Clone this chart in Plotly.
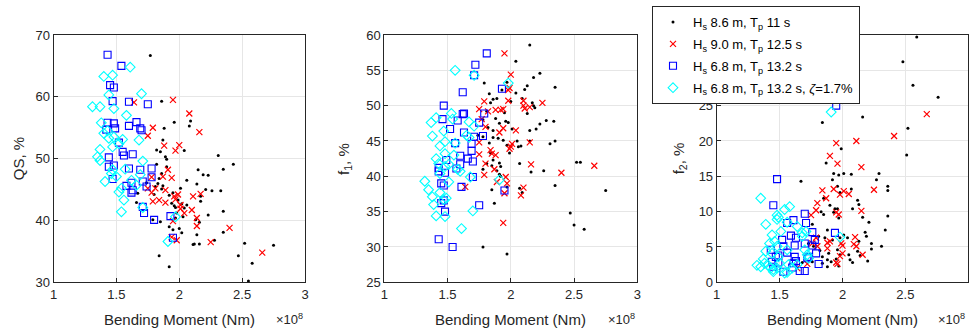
import plotly.graph_objects as go

# ---------------- data (bending moment in units of 1e8 Nm) ----------------
# Panel 1: QS, %
qs_black_x = [1.77,1.86,1.96,1.88,2.08,2.09,1.87,1.82,1.85,2.04,1.89,1.90,2.31,2.43,2.35,1.82,1.90,1.86,1.84,2.15,
              2.19,2.23,2.06,1.83,1.87,1.81,2.14,2.21,2.26,2.33,2.01,1.95,1.92,1.99,2.17,2.17,2.06,2.04,1.80,1.86,
              1.94,1.96,1.97,2.03,2.23,2.35,2.13,2.16,2.00,1.95,2.02,1.92,2.14,2.35,1.85,1.79,2.11,2.12,2.16,2.28,
              2.52,2.75,1.84,2.47,2.58,1.92,2.55,1.74,1.97,1.98,2.02,1.67,1.66]
qs_black_y = [66.7,59.3,55.9,54.9,55.3,56.1,53.0,51.4,51.1,51.3,50.3,49.9,50.5,49.1,48.3,49.1,48.7,47.6,46.8,48.2,
              47.4,47.3,46.5,46.0,45.6,45.5,45.9,45.0,44.8,44.8,45.2,44.5,44.1,43.3,43.9,43.1,42.5,42.0,44.2,45.1,
              42.8,42.4,40.4,40.6,40.9,41.5,40.1,39.7,38.7,38.5,38.0,39.0,37.7,38.1,39.8,40.1,36.1,36.2,36.2,36.8,
              36.3,36.0,34.3,34.3,33.1,32.5,30.2,46.1,42.1,41.2,42.7,44.4,42.9]
qs_red_x = [1.64,1.95,2.08,2.16,1.79,1.75,1.88,2.00,1.97,1.91,1.87,1.94,1.78,1.75,1.78,1.81,1.89,1.84,1.79,1.89,
            1.96,1.97,1.99,2.01,2.01,2.04,2.10,2.17,2.11,2.14,2.14,1.95,1.98,1.94,2.25,2.40,2.66]
qs_red_y = [59.1,59.5,57.3,54.3,55.0,53.7,52.1,52.2,51.3,48.2,47.1,46.9,47.0,45.2,44.5,45.2,44.9,43.3,43.1,42.9,
            43.9,43.4,44.2,42.5,41.9,41.2,41.7,44.3,43.9,40.4,39.1,39.9,36.8,37.3,36.5,38.8,34.8]
qs_blue_x = [1.43,1.54,1.45,1.48,1.47,1.60,1.75,1.43,1.48,1.42,1.49,1.60,1.66,1.69,1.70,1.52,1.55,1.56,1.63,1.44,
             1.44,1.48,1.47,1.60,1.69,1.78,1.78,1.58,1.62,1.62,1.63,1.74,1.71,1.71,1.72,1.80,1.93,1.95]
qs_blue_y = [66.8,65.0,61.9,61.5,59.3,59.2,58.8,55.8,55.7,54.7,54.9,55.3,55.9,54.9,54.6,52.6,51.1,50.5,50.7,50.2,
             48.7,48.9,46.7,48.4,48.2,48.4,47.0,45.6,46.1,44.5,44.9,45.5,46.3,42.2,41.2,40.1,40.7,37.2]
qs_cyan_x = [1.31,1.37,1.40,1.47,1.61,1.44,1.48,1.70,1.38,1.58,1.40,1.43,1.44,1.47,1.48,1.52,1.55,1.68,1.37,1.35,
             1.37,1.47,1.46,1.57,1.71,1.41,1.52,1.56,1.54,1.62,1.66,1.69,1.71,1.54,1.97,1.91,1.50]
qs_cyan_y = [58.4,58.4,63.3,63.5,64.8,60.3,58.1,60.5,55.8,57.0,54.1,54.5,53.3,51.9,53.5,52.4,53.1,53.0,51.5,50.3,
             49.7,48.2,47.6,48.3,49.6,46.3,44.6,43.3,41.4,46.5,45.7,47.4,42.1,45.2,40.6,36.6,47.1]

# Panel 2: f1, %
f1_black_x = [2.15,2.04,2.23,2.18,2.35,2.13,2.11,2.04,1.93,1.97,2.09,2.17,2.19,2.18,2.00,1.95,2.13,1.96,1.98,2.28,
              2.34,2.23,2.20,2.15,2.01,1.94,2.05,2.15,2.31,2.35,2.08,2.06,1.99,1.92,2.07,2.16,2.26,2.52,2.55,2.35,
              2.75,2.07,2.09,2.47,2.50,2.58,1.97,1.79,1.83,1.86,1.84,1.89,1.81,1.78,1.88,1.91,1.82,1.86,1.78,1.86,
              1.90,1.74,1.83,1.97,1.84,1.86,1.91,1.81,1.85,1.78,1.89,1.91,1.92,1.97,1.85,1.87,1.78]
f1_black_y = [58.6,56.3,54.6,54.0,52.6,52.8,52.3,51.8,52.2,53.3,51.0,50.4,49.7,50.0,50.6,49.0,48.9,47.8,47.6,47.9,
              47.8,47.4,46.7,46.5,46.7,45.1,45.0,45.0,44.6,45.0,44.3,44.2,43.3,41.4,41.8,40.6,40.8,42.0,42.0,38.7,
              38.0,38.3,37.7,34.8,33.1,32.5,29.0,53.2,51.7,50.9,50.4,51.0,49.2,48.0,48.2,47.5,46.9,46.5,45.6,45.5,
              45.4,45.8,44.7,44.4,43.3,42.3,41.9,41.8,41.5,41.0,40.8,40.3,40.0,38.5,38.1,36.2,30.0]
f1_red_x = [1.95,2.00,1.99,1.98,1.98,1.79,2.10,2.10,2.11,2.15,2.25,1.75,1.82,1.88,1.92,1.94,1.77,1.80,1.91,1.94,
            2.04,1.75,2.01,1.99,2.15,1.84,1.85,1.75,1.88,1.80,2.16,1.87,1.79,1.96,1.97,1.95,1.89,2.10,2.08,1.64,
            2.40,2.66,1.94,2.00]
f1_red_y = [57.4,54.4,52.5,52.2,50.7,50.6,50.7,50.0,49.6,49.8,50.4,49.5,49.2,49.4,49.4,49.5,48.1,47.0,46.2,46.8,
            46.5,44.8,44.6,43.9,44.8,43.7,43.2,43.1,43.0,41.8,41.7,41.0,40.2,39.9,39.0,37.6,39.2,38.4,37.3,38.5,
            40.5,41.5,33.4,44.2]
f1_blue_x = [1.81,1.72,1.71,1.62,1.93,1.47,1.46,1.58,1.62,1.63,1.79,1.75,1.52,1.63,1.71,1.78,1.56,1.69,1.69,1.60,
             1.66,1.70,1.60,1.49,1.43,1.43,1.57,1.48,1.70,1.61,1.45,1.47,1.47,1.45,1.48,1.75,1.95,1.43,1.54]
f1_blue_y = [57.4,55.8,54.3,51.9,52.4,50.0,48.1,47.9,48.8,48.9,48.9,47.6,46.7,46.2,45.6,45.7,44.7,44.6,43.6,42.9,
             42.5,42.1,41.7,42.3,41.2,40.7,41.1,40.5,39.9,38.5,39.0,38.7,36.6,36.2,35.0,35.9,38.0,31.1,30.0]
f1_cyan_x = [1.56,1.71,1.98,1.37,1.41,1.53,1.54,1.67,1.71,1.38,1.47,1.44,1.48,1.56,1.65,1.67,1.48,1.55,1.41,1.43,
             1.48,1.51,1.58,1.60,1.68,1.32,1.35,1.38,1.44,1.47,1.49,1.39,1.41,1.48,1.70,1.61,1.91,1.44,1.51]
f1_cyan_y = [55.0,54.3,53.2,47.6,48.3,48.9,48.1,47.7,47.1,45.7,46.4,44.3,44.9,44.7,45.8,45.5,43.2,43.0,42.5,41.8,
             41.4,41.7,41.0,40.7,39.9,39.3,38.1,37.1,37.7,36.7,36.9,36.0,34.4,34.3,35.1,32.6,39.5,40.4,39.2]

# Panel 3: f2, %
f2_black_x = [2.59,2.48,2.56,2.76,2.16,1.84,2.52,1.99,2.51,1.87,1.93,1.97,2.01,2.07,2.29,1.67,1.92,2.27,2.36,2.36,
              1.96,2.07,1.98,2.12,2.13,1.90,1.85,1.83,1.94,1.96,2.08,2.16,1.93,2.36,2.21,1.85,1.97,1.76,2.34,2.18,
              2.19,2.31,2.23,2.23,2.12,2.05,2.14,2.06,2.20,2.08,1.98,1.89,1.84,1.88,1.91,1.84,1.88,1.95,1.97,1.96,
              1.88,1.92,1.86,1.77,1.82,2.01,2.04,2.13,1.98,1.81,1.76,1.68,1.73]
f2_black_y = [34.7,31.2,27.9,26.2,23.4,22.6,21.8,18.9,18.0,16.9,15.4,15.2,15.4,15.3,15.4,14.3,14.5,14.5,13.6,13.0,
              13.6,13.2,12.7,11.6,11.0,10.9,11.9,10.0,10.4,10.4,10.4,9.2,9.9,9.4,8.5,9.6,9.1,8.2,7.4,7.1,
              6.5,5.1,5.5,4.7,4.4,3.9,3.8,3.2,3.0,2.8,3.9,4.1,3.6,3.2,2.9,2.7,2.2,3.3,2.3,4.6,
              7.4,6.0,6.3,5.1,4.5,6.7,6.3,5.8,6.3,6.5,2.9,2.8,5.5]
f2_red_x = [2.67,2.41,2.11,1.95,1.90,1.96,2.15,1.84,1.93,2.01,2.05,1.98,2.25,1.80,1.87,1.79,1.75,1.95,1.97,2.15,
            1.76,1.80,1.88,1.90,1.88,1.99,2.00,2.09,2.10,2.11,1.98,2.00,1.95,1.96,2.16,1.72,1.79,1.64]
f2_red_y = [23.8,20.7,20.0,19.7,17.9,16.8,16.3,13.0,13.2,12.9,12.5,12.4,13.1,11.2,11.9,10.2,9.5,9.9,9.6,10.1,
            5.5,5.1,5.6,5.8,4.8,5.5,5.2,5.4,6.4,5.1,3.7,4.1,2.8,2.6,3.9,2.6,6.3,2.0]
f2_blue_x = [1.95,1.48,1.45,1.70,1.61,1.71,1.56,1.59,1.63,1.76,1.94,1.78,1.52,1.70,1.62,1.53,1.76,1.43,1.56,1.79,
             1.47,1.49,1.62,1.72,1.49,1.61,1.63,1.45,1.81,1.60,1.66,1.70,1.53,1.44,1.73]
f2_blue_y = [25.0,14.6,10.9,9.7,8.8,8.4,8.4,6.6,6.3,7.1,7.0,6.0,6.0,5.5,5.2,5.1,5.2,4.6,4.2,4.1,
             3.6,3.8,3.6,3.4,2.8,2.7,3.0,2.2,2.6,2.1,1.6,1.6,1.5,2.9,3.6]
f2_cyan_x = [1.91,1.35,1.39,1.48,1.49,1.48,1.54,1.58,1.56,1.42,1.44,1.46,1.51,1.64,1.68,1.71,1.68,1.39,1.44,1.48,
             1.49,1.56,1.37,1.38,1.32,1.35,1.41,1.43,1.45,1.48,1.57,1.60,1.64,1.72,1.73,1.70,1.98,1.50,1.54,1.45,1.56]
f2_cyan_y = [24.1,11.9,8.2,9.5,9.2,8.9,10.3,10.7,8.5,5.5,6.7,5.8,7.2,7.9,7.0,7.2,6.5,4.4,4.1,5.1,
             3.6,4.6,3.3,2.7,2.4,2.2,2.4,2.0,1.8,2.0,2.5,2.0,2.5,3.9,3.4,4.6,6.4,2.7,1.3,1.5,1.4]

series_names = ["H<sub>s</sub> 8.6 m, T<sub>p</sub> 11 s",
                "H<sub>s</sub> 9.0 m, T<sub>p</sub> 12.5 s",
                "H<sub>s</sub> 6.8 m, T<sub>p</sub> 13.2 s",
                "H<sub>s</sub> 6.8 m, T<sub>p</sub> 13.2 s, <i>ζ</i>=1.7%"]
y_titles = ["QS, %", "f<sub>1</sub>, %", "f<sub>2</sub>, %"]
x_title = "Bending Moment (Nm)"
x_ticks = [1, 1.5, 2, 2.5, 3]
y_ranges = [(30, 70, 10), (25, 60, 5), (0, 35, 5)]

panels = [
    [(qs_black_x, qs_black_y), (qs_red_x, qs_red_y), (qs_blue_x, qs_blue_y), (qs_cyan_x, qs_cyan_y)],
    [(f1_black_x, f1_black_y), (f1_red_x, f1_red_y), (f1_blue_x, f1_blue_y), (f1_cyan_x, f1_cyan_y)],
    [(f2_black_x, f2_black_y), (f2_red_x, f2_red_y), (f2_blue_x, f2_blue_y), (f2_cyan_x, f2_cyan_y)],
]

# ---------------- styling ----------------
W, H = 971, 329
FONT = "Liberation Sans, Arial, Helvetica, sans-serif"
TXT = "#262626"
markers = [
    dict(symbol="circle", size=3, color="black", line=dict(width=0)),
    dict(symbol="x-thin", size=6, color="red", line=dict(color="red", width=1.2)),
    dict(symbol="square-open", size=7, color="blue", line=dict(color="blue", width=1.1)),
    dict(symbol="diamond-open", size=7.5, color="#00ffff", line=dict(color="#00ffff", width=1.1)),
]

px_x = [(53.5, 305.0), (384.3, 637.3), (716.7, 968.3)]
ytitle_off = [35, 40, 37]
py_top, py_bot = 35.0, 282.3

fig = go.Figure()
for p in range(3):
    ax = "" if p == 0 else str(p + 1)
    for s, (xs, ys) in enumerate(panels[p]):
        fig.add_trace(go.Scatter(
            x=xs, y=ys, mode="markers", marker=markers[s],
            name=series_names[s], showlegend=(p == 0), legendgroup=f"g{s}",
            xaxis="x" + ax, yaxis="y" + ax, hoverinfo="skip"))

layout = dict(
    width=W, height=H, margin=dict(l=0, r=0, t=0, b=0, pad=0, autoexpand=False),
    paper_bgcolor="white", plot_bgcolor="white",
    font=dict(family=FONT, size=13, color=TXT),
    legend=dict(x=652 / W, y=1 - 6 / H, xanchor="left", yanchor="top",
                bgcolor="white", bordercolor="#262626", borderwidth=1,
                font=dict(size=13, color="black"), traceorder="grouped",
                tracegroupgap=2, itemsizing="trace"),
    annotations=[],
)
for p in range(3):
    ax = "" if p == 0 else str(p + 1)
    x0, x1 = px_x[p]
    lo, hi, step = y_ranges[p]
    common = dict(showline=True, mirror=True, linecolor="#262626", linewidth=1,
                  ticks="inside", ticklen=4, tickcolor="#262626",
                  showgrid=True, gridcolor="#e6e6e6", gridwidth=1, zeroline=False,
                  automargin=False, tickfont=dict(size=13, color=TXT))
    layout["xaxis" + ax] = dict(domain=[x0 / W, x1 / W], range=[1, 3],
                                tickvals=x_ticks, ticktext=[f"{v:g}" for v in x_ticks],
                                anchor="y" + ax, **common)
    layout["yaxis" + ax] = dict(domain=[1 - py_bot / H, 1 - py_top / H], range=[lo, hi],
                                dtick=step, tick0=lo, anchor="x" + ax, **common)
    xc = (x0 + x1) / 2
    layout["annotations"] += [
        dict(text=x_title, x=xc / W, y=1 - 319 / H, xref="paper", yref="paper",
             xanchor="center", yanchor="middle", showarrow=False, font=dict(size=15, color=TXT)),
        dict(text="×10<sup>8</sup>", x=min(x1, 967) / W, y=1 - 319 / H, xref="paper", yref="paper",
             xanchor="right", yanchor="middle", showarrow=False, font=dict(size=13, color=TXT)),
        dict(text=y_titles[p], x=(x0 - ytitle_off[p]) / W, y=1 - ((py_top + py_bot) / 2) / H,
             xref="paper", yref="paper", textangle=-90,
             xanchor="center", yanchor="middle", showarrow=False, font=dict(size=15, color=TXT)),
    ]

fig.update_layout(**layout)
fig.write_html("out.html", config={"displayModeBar": False},
               post_script="document.body.style.margin='0';document.body.style.overflow='hidden';")
